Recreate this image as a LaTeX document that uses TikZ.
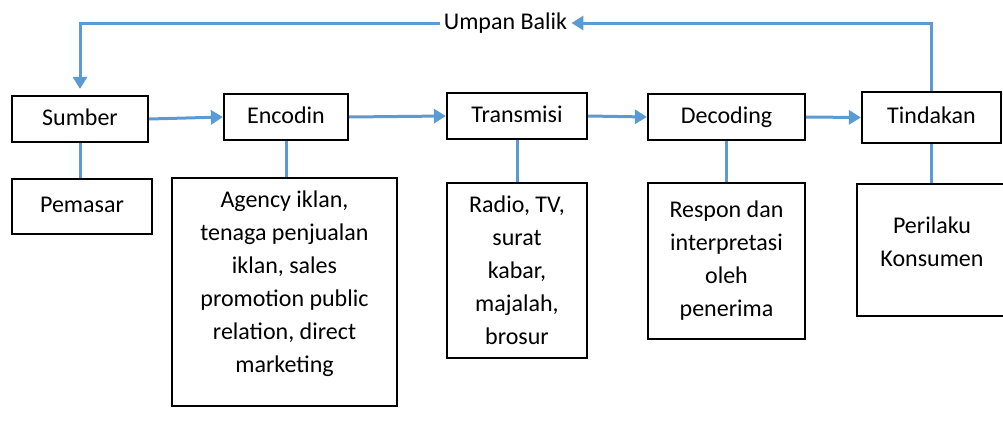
\documentclass[tikz,border=0pt]{standalone}
\usepackage{fontspec}
\setmainfont{Carlito}
\usetikzlibrary{arrows.meta}
\definecolor{lineblue}{HTML}{5B9BD5}

\begin{document}
\begin{tikzpicture}[x=0.5pt, y=-0.5pt,
    box/.style={draw, line width=1.1pt, inner sep=0pt, align=center,
        font=\fontsize{12}{16.5}\selectfont},
    stage/.style={box, text height=8.6pt, text depth=2.6pt},
    flow/.style={draw=lineblue, line width=1.5pt, -{Triangle[width=7pt,length=6pt]}},
    link/.style={draw=lineblue, line width=1.5pt}]
    \useasboundingbox (0,0) rectangle (1003,434);
    % top row
    \node [stage, minimum width=68pt, minimum height=23pt] (sumber) at (80,119) {Sumber};
    \node [stage, minimum width=62pt, minimum height=23pt] (encodin) at (286,117) {Encodin};
    \node [stage, minimum width=70pt, minimum height=23pt] (transmisi) at (517,116) {Transmisi};
    \node [stage, minimum width=78.5pt, minimum height=23pt] (decoding) at (726.5,117) {Decoding};
    \node [stage, minimum width=69.5pt, minimum height=25.5pt] (tindakan) at (931.5,117.5) {Tindakan};
    % bottom row
    \node [stage, minimum width=70pt, minimum height=27.5pt] (pemasar) at (82,206.5) {Pemasar};
    \node [box, minimum width=112.5pt, minimum height=114pt, text depth=10pt] (agency) at (284.5,292) {Agency iklan,\\ tenaga penjualan\\ iklan, sales\\ promotion public\\ relation, direct\\ marketing};
    \node [box, minimum width=70pt, minimum height=87.5pt] (radio) at (517,270.5) {Radio, TV,\\ surat\\ kabar,\\ majalah,\\ brosur};
    \node [box, minimum width=78.5pt, minimum height=78pt] (respon) at (726.5,261) {Respon dan\\ interpretasi\\ oleh\\ penerima};
    \node [box, minimum width=75pt, minimum height=66pt, text depth=8.5pt] (perilaku) at (932,250) {Perilaku\\ Konsumen};
    % feedback
    \node [inner sep=2pt, font=\fontsize{12}{14}\selectfont] (umpan) at (505.5,23) {Umpan Balik};
    \draw [flow] (tindakan.north) |- (umpan.east);
    \draw [flow, shorten >=3pt] (umpan.west) -| (sumber.north);
    % flow between stages
    \draw [flow] (sumber.east) to (encodin.west);
    \draw [flow] (encodin.east) to (transmisi.west);
    \draw [flow] (transmisi.east) to (decoding.west);
    \draw [flow] (decoding.east) to (tindakan.west);
    % links to details
    \draw [link] (sumber.south) to (sumber.south |- pemasar.north);
    \draw [link] (encodin.south) to (encodin.south |- agency.north);
    \draw [link] (transmisi.south) to (transmisi.south |- radio.north);
    \draw [link] (decoding.south) to (decoding.south |- respon.north);
    \draw [link] (tindakan.south) to (tindakan.south |- perilaku.north);
\end{tikzpicture}
\end{document}
